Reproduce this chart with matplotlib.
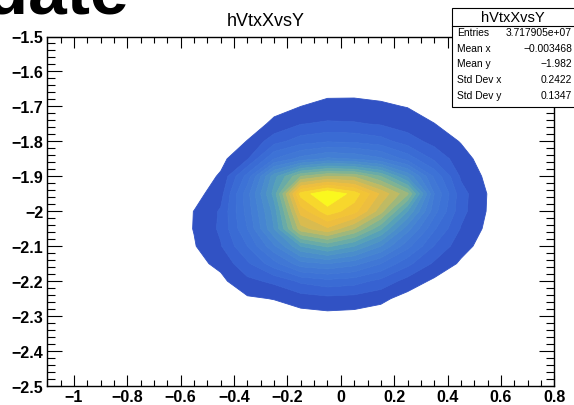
import numpy as np
import matplotlib
matplotlib.use("Agg")
import matplotlib.pyplot as plt
from matplotlib.colors import LinearSegmentedColormap
from matplotlib.patches import Rectangle
from matplotlib.lines import Line2D
from matplotlib.ticker import FixedLocator, MultipleLocator

# Bin centres of the 2D vertex histogram (x: 0.1 wide, y: 0.05 wide)
x_centers = [-0.65, -0.55, -0.45, -0.35, -0.25, -0.15, -0.05,
             0.05, 0.15, 0.25, 0.35, 0.45, 0.55, 0.65]
y_centers = [-1.60, -1.65, -1.70, -1.75, -1.80, -1.85, -1.90, -1.95,
             -2.00, -2.05, -2.10, -2.15, -2.20, -2.25, -2.30, -2.35]

# Bin contents (arbitrary units, peak = 1000); one row per y bin
counts = [
    [0, 0, 0, 1, 8, 15, 20, 20, 18, 12, 6, 2, 1, 0],
    [0, 0, 0, 4, 18, 28, 36, 37, 33, 26, 14, 4, 2, 0],
    [0, 1, 2, 11, 35, 50, 62, 62, 57, 48, 28, 11, 4, 1],
    [1, 2, 6, 25, 60, 98, 108, 105, 95, 75, 51, 25, 8, 3],
    [2, 5, 15, 52, 130, 175, 195, 190, 170, 125, 82, 47, 16, 5],
    [4, 10, 36, 95, 250, 320, 360, 345, 310, 230, 140, 70, 26, 8],
    [8, 20, 56, 220, 480, 650, 700, 690, 600, 440, 240, 92, 38, 12],
    [12, 30, 80, 280, 520, 920, 1000, 930, 790, 660, 300, 120, 48, 15],
    [14, 51, 106, 270, 470, 820, 930, 870, 720, 500, 270, 117, 46, 15],
    [15, 52, 109, 250, 450, 730, 790, 700, 560, 370, 207, 96, 38, 12],
    [13, 46, 96, 200, 340, 500, 560, 500, 400, 266, 147, 69, 27, 9],
    [10, 35, 62, 140, 230, 330, 350, 318, 250, 164, 91, 42, 17, 5],
    [6, 23, 38, 86, 111, 160, 183, 171, 134, 80, 40, 23, 9, 3],
    [4, 13, 18, 43, 52, 74, 85, 80, 62, 30, 20, 11, 4, 1],
    [2, 7, 9, 19, 21, 30, 35, 32, 25, 14, 8, 4, 2, 1],
    [1, 3, 4, 7, 7, 11, 12, 11, 9, 5, 3, 2, 1, 0],
]

n_contours = 20

x_ticks = [-1.0, -0.8, -0.6, -0.4, -0.2, 0.0, 0.2, 0.4, 0.6, 0.8]
x_tick_labels = ["\u22121", "\u22120.8", "\u22120.6", "\u22120.4", "\u22120.2",
                 "0", "0.2", "0.4", "0.6", "0.8"]
y_ticks = [-2.5, -2.4, -2.3, -2.2, -2.1, -2.0, -1.9, -1.8, -1.7, -1.6, -1.5]
y_tick_labels = ["\u22122.5", "\u22122.4", "\u22122.3", "\u22122.2", "\u22122.1",
                 "\u22122", "\u22121.9", "\u22121.8", "\u22121.7", "\u22121.6",
                 "\u22121.5"]

stats_title = "hVtxXvsY"
stats_names = ["Entries", "Mean x", "Mean y", "Std Dev x", "Std Dev y"]
stats_values = ["3.717905e+07", "\u22120.003468", "\u22121.982", "0.2422", "0.1347"]

palette = LinearSegmentedColormap.from_list("bird_like", [
    (0.00, (49/255, 82/255, 196/255)),
    (0.06, (56/255, 100/255, 210/255)),
    (0.15, (60/255, 112/255, 214/255)),
    (0.30, (68/255, 128/255, 212/255)),
    (0.42, (76/255, 145/255, 200/255)),
    (0.52, (90/255, 165/255, 180/255)),
    (0.62, (130/255, 180/255, 145/255)),
    (0.72, (190/255, 186/255, 100/255)),
    (0.82, (235/255, 188/255, 65/255)),
    (0.92, (245/255, 200/255, 50/255)),
    (1.00, (250/255, 248/255, 30/255)),
])

W, H = 574, 406
fig = plt.figure(figsize=(W / 100, H / 100), dpi=100)
fig.patch.set_facecolor("white")

font = "Liberation Sans"

# slide heading cut by the top edge
fig.text(-106 / W, 1 - 14 / H, "Update", fontsize=50, fontweight="bold",
         family=font, ha="left", va="baseline", color="black")

ax = fig.add_axes([47.3 / W, 1 - 387 / H, (554.3 - 47.3) / W, (387 - 37.5) / H])

z = np.array(counts, dtype=float)
zmax = z.max()
levels = [zmax * i / n_contours for i in range(1, n_contours + 1)]
band_colors = [palette(i / (len(levels) - 2)) for i in range(len(levels) - 1)]
cs = ax.contourf(x_centers, y_centers, z, levels=levels, colors=band_colors,
                 antialiased=True)
# close the hairline gaps between neighbouring bands
cs.set_edgecolor("face")
cs.set_linewidth(0.6)

ax.set_xlim(-1.1, 0.8)
ax.set_ylim(-2.5, -1.5)

ax.xaxis.set_major_locator(FixedLocator(x_ticks))
ax.set_xticklabels(x_tick_labels)
ax.xaxis.set_minor_locator(MultipleLocator(0.05))
ax.yaxis.set_major_locator(FixedLocator(y_ticks))
ax.set_yticklabels(y_tick_labels)
ax.yaxis.set_minor_locator(MultipleLocator(0.02))

ax.tick_params(axis="both", which="both", direction="in", top=True, right=True,
               width=0.8, color="black")
ax.tick_params(axis="x", which="major", length=8, pad=2.5)
ax.tick_params(axis="x", which="minor", length=4)
ax.tick_params(axis="y", which="major", length=11, pad=3)
ax.tick_params(axis="y", which="minor", length=5.5)
for lab in ax.get_xticklabels() + ax.get_yticklabels():
    lab.set_fontsize(11.5)
    lab.set_fontweight("bold")
    lab.set_family(font)
for sp in ax.spines.values():
    sp.set_linewidth(1.0)

fig.text(266 / W, 1 - 21.5 / H, "hVtxXvsY", fontsize=13, family=font,
         ha="center", va="center")

# statistics box
bx0, by0, bx1, by1 = 451.7, 9.3, 580, 108.3
fig.patches.append(Rectangle((bx0 / W, 1 - by1 / H), (bx1 - bx0) / W,
                             (by1 - by0) / H, transform=fig.transFigure,
                             facecolor="white", edgecolor="black",
                             linewidth=0.8, zorder=5))
fig.lines.append(Line2D([bx0 / W, 1.0], [1 - 26.7 / H, 1 - 26.7 / H],
                        transform=fig.transFigure, color="black",
                        linewidth=0.8, zorder=6))
fig.text((bx0 + 574) / 2 / W, 1 - 18 / H, stats_title, fontsize=10.5, family=font,
         ha="center", va="center", zorder=7)
row_y = [33.3, 49.3, 64.0, 80.0, 96.0]
for name, val, yy in zip(stats_names, stats_values, row_y):
    fig.text(457 / W, 1 - yy / H, name, fontsize=7.4, family=font,
             ha="left", va="center", zorder=7)
    fig.text(572 / W, 1 - yy / H, val, fontsize=7.4, family=font,
             ha="right", va="center", zorder=7)

fig.savefig("out.png", dpi=100)
